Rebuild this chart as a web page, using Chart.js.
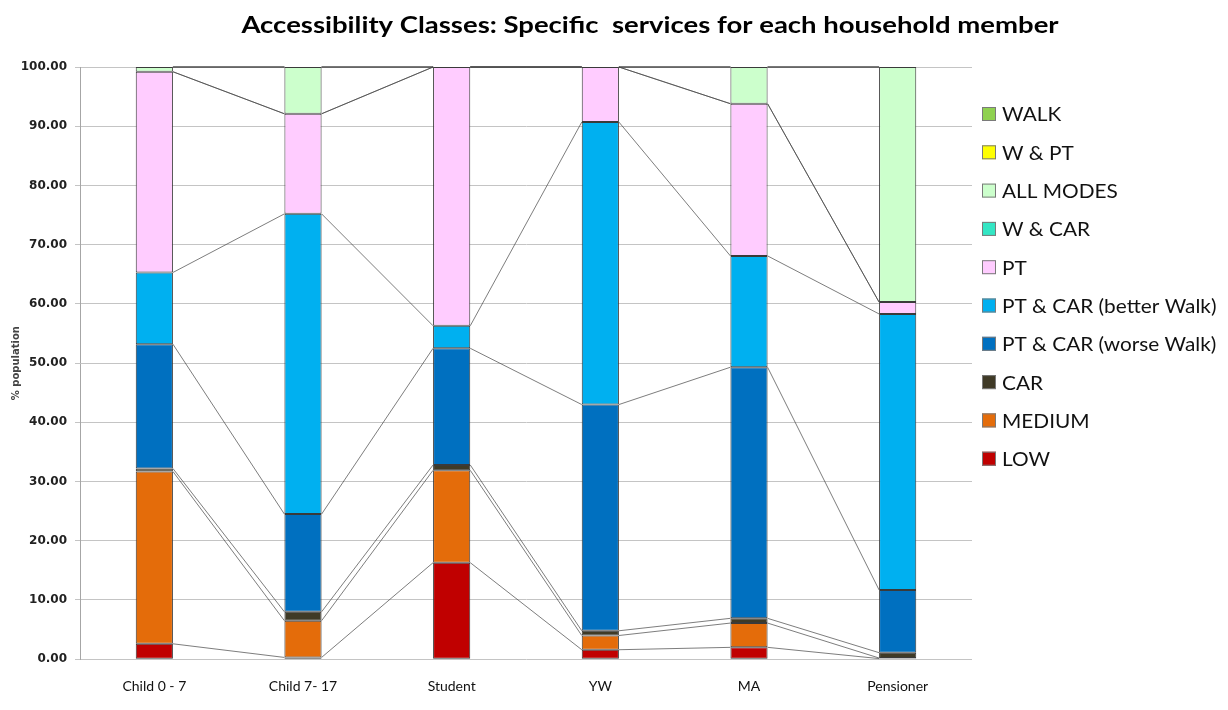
<!DOCTYPE html>
<html>
<head>
<meta charset="utf-8">
<script src="https://cdn.jsdelivr.net/npm/chart.js@4/dist/chart.umd.min.js"></script>
<style>
  html, body { margin: 0; padding: 0; background: #fff; }
  #wrap { width: 1228px; height: 710px; }
</style>
</head>
<body>
<div id="wrap"><canvas id="chart" width="1228" height="710"></canvas></div>
<script>
// ----- DATA -----
const members = ["Child 0 - 7", "Child 7- 17", "Student", "YW", "MA", "Pensioner"];

const low       = [2.6, 0.3, 16.3, 1.6, 2.0, 0.1];
const medium    = [29.1, 6.2, 15.6, 2.4, 4.1, 0.1];
const car       = [0.5, 1.5, 0.9, 0.8, 0.8, 0.9];
const ptCarWorse  = [21.0, 16.5, 19.7, 38.2, 42.4, 10.6];
const ptCarBetter = [12.1, 50.7, 3.8, 47.7, 18.8, 46.6];
const pt        = [33.9, 16.9, 43.7, 9.3, 25.7, 2.0];
const wCar      = [0, 0, 0, 0, 0, 0];
const allModes  = [0.8, 7.9, 0, 0, 6.2, 39.7];
const wPt       = [0, 0, 0, 0, 0, 0];
const walk      = [0, 0, 0, 0, 0, 0];

const yTicks = [0, 10, 20, 30, 40, 50, 60, 70, 80, 90, 100];

const TITLE = "Accessibility Classes: Specific  services for each household member";

// ----- SERIES -----
const series = [
    { label: "LOW", data: low, color: "#c00000" },
    { label: "MEDIUM", data: medium, color: "#e46c0a" },
    { label: "CAR", data: car, color: "#3f3a26" },
    { label: "PT & CAR (worse Walk)", data: ptCarWorse, color: "#0070c0" },
    { label: "PT & CAR (better Walk)", data: ptCarBetter, color: "#00b0f0" },
    { label: "PT", data: pt, color: "#ffccff" },
    { label: "W & CAR", data: wCar, color: "#33e6c4" },
    { label: "ALL MODES", data: allModes, color: "#ccffcc" },
    { label: "W & PT", data: wPt, color: "#ffff00" },
    { label: "WALK", data: walk, color: "#8fd150" },
];

// series lines between neighbouring bars, like Excel
const seriesLines = {
    id: "seriesLines",
    beforeDatasetsDraw(chart) {
        const { ctx, chartArea } = chart;
        ctx.save();
        ctx.beginPath();
        ctx.rect(chartArea.left, chartArea.top - 1, chartArea.width, chartArea.height + 2);
        ctx.clip();
        ctx.strokeStyle = "rgba(70,70,70,0.7)";
        ctx.lineWidth = 1;
        chart.data.datasets.forEach((ds, d) => {
            const bars = chart.getDatasetMeta(d).data;
            for (let j = 0; j < bars.length - 1; j++) {
                const a = bars[j], b = bars[j + 1];
                ctx.beginPath();
                ctx.moveTo(a.x + a.width / 2, a.y);
                ctx.lineTo(b.x - b.width / 2, b.y);
                ctx.stroke();
            }
        });
        ctx.restore();
    }
};

// title (the original font is a bit stretched sideways)
const titlePlugin = {
    id: "bigTitle",
    afterDraw(chart) {
        const ctx = chart.ctx;
        ctx.save();
        ctx.font = "bold 22px Lato";
        ctx.fillStyle = "#000";
        ctx.textAlign = "center";
        ctx.textBaseline = "middle";
        ctx.translate(650, 26);
        ctx.scale(1.25, 1);
        ctx.fillText(TITLE, 0, 0);
        ctx.restore();
    }
};

// legend on the right, top item first
const sideLegend = {
    id: "sideLegend",
    afterDraw(chart) {
        const ctx = chart.ctx;
        ctx.save();
        ctx.font = "20px Lato";
        ctx.textBaseline = "middle";
        const items = chart.data.datasets.slice().reverse();
        items.forEach((ds, i) => {
            const cy = 114 + i * 38.3;
            ctx.fillStyle = ds.backgroundColor;
            ctx.fillRect(982, cy - 7, 14, 14);
            ctx.strokeStyle = "#7a7a7a";
            ctx.lineWidth = 1;
            ctx.strokeRect(982.5, cy - 6.5, 13, 13);
            ctx.save();
            ctx.translate(1002, cy + 1);
            ctx.scale(1.04, 1);
            ctx.fillStyle = "#111";
            ctx.fillText(ds.label, 0, 0);
            ctx.restore();
        });
        ctx.restore();
    }
};

new Chart(document.getElementById("chart"), {
    type: "bar",
    data: {
        labels: members,
        datasets: series.map(s => ({
            label: s.label,
            data: s.data,
            backgroundColor: s.color,
            borderColor: "#3a3a3a",
            borderWidth: 1,
            borderSkipped: false,
            barPercentage: 0.5,
            categoryPercentage: 0.5
        }))
    },
    options: {
        responsive: false,
        animation: false,
        layout: { padding: { top: 67, right: 256, bottom: 4, left: 0 } },
        plugins: {
            legend: { display: false },
            title: { display: false },
            tooltip: { enabled: false }
        },
        scales: {
            x: {
                stacked: true,
                grid: { display: false },
                border: { display: false },
                ticks: {
                    padding: 11,
                    color: "#111",
                    font: { family: "Lato", size: 14 }
                }
            },
            y: {
                stacked: true,
                min: 0,
                max: 100,
                afterFit: s => { s.width = 80; },
                afterBuildTicks: s => { s.ticks = yTicks.map(v => ({ value: v })); },
                border: { display: true, color: "#a6a6a6" },
                grid: { color: "#c4c4c4", tickLength: 5 },
                ticks: {
                    padding: 8,
                    color: "#222",
                    font: { family: "DejaVu Sans", size: 12, weight: "bold" },
                    callback: v => v.toFixed(2)
                },
                title: {
                    display: true,
                    text: "% population",
                    color: "#444",
                    padding: { top: 10, bottom: 0 },
                    font: { family: "DejaVu Sans", size: 10, weight: "bold" }
                }
            }
        }
    },
    plugins: [seriesLines, titlePlugin, sideLegend]
});
</script>
</body>
</html>
